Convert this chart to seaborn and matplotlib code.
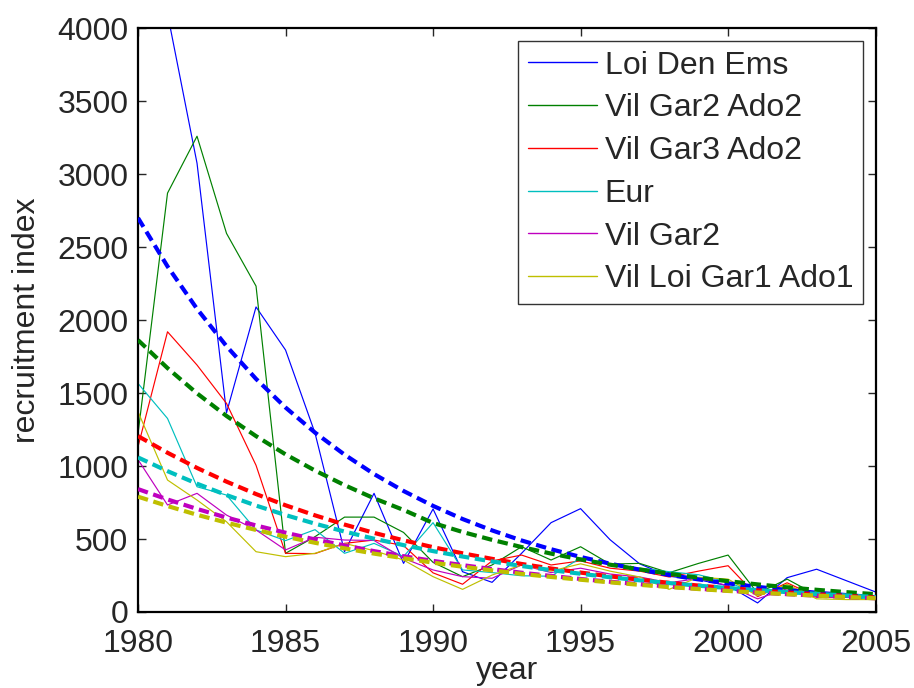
import numpy as np
import pandas as pd
import matplotlib
matplotlib.use("Agg")
import matplotlib.pyplot as plt
import seaborn as sns

years = list(range(1980, 2006))

series_names = ["Loi Den Ems", "Vil Gar2 Ado2", "Vil Gar3 Ado2", "Eur",
                "Vil Gar2", "Vil Loi Gar1 Ado1"]

# observed recruitment indices, one value per year 1980-2005
loi_den_ems = [5200, 4100, 3075, 1365, 2090, 1795, 1225, 413, 813, 333,
               706, 276, 203, 402, 612, 708, 495, 330, 245, 220,
               180, 62, 235, 293, 215, 137]
vil_gar2_ado2 = [1220, 2870, 3260, 2594, 2233, 402, 516, 650, 650, 545,
                 340, 242, 322, 447, 356, 447, 328, 333, 269, 333,
                 390, 128, 225, 116, 105, 100]
vil_gar3_ado2 = [1132, 1920, 1692, 1429, 1005, 402, 400, 470, 493, 455,
                 268, 190, 350, 390, 322, 350, 300, 280, 240, 280,
                 317, 105, 200, 105, 100, 100]
eur = [1566, 1326, 858, 801, 562, 489, 564, 402, 470, 380,
       612, 288, 270, 248, 245, 370, 330, 300, 276, 255,
       205, 120, 175, 110, 100, 90]
vil_gar2 = [1044, 733, 813, 664, 562, 425, 512, 493, 490, 368,
            288, 242, 231, 322, 270, 300, 260, 240, 200, 230,
            180, 90, 160, 100, 100, 100]
vil_loi_gar1_ado1 = [1372, 904, 767, 618, 413, 379, 402, 470, 420, 356,
                     242, 155, 253, 322, 280, 330, 280, 240, 155, 238,
                     225, 110, 190, 90, 85, 85]

# fitted trend for each series
fit_loi_den_ems = [2700, 2368, 2077, 1821, 1597, 1401, 1229, 1078, 945, 829,
                   727, 637, 559, 490, 430, 377, 331, 290, 254, 223,
                   196, 172, 150, 132, 116, 101]
fit_vil_gar2_ado2 = [1863, 1671, 1498, 1343, 1205, 1080, 969, 869, 779, 699,
                     610, 548, 494, 445, 400, 360, 324, 292, 262, 235,
                     211, 189, 169, 152, 136, 122]
fit_vil_gar3_ado2 = [1205, 1091, 987, 893, 808, 731, 662, 599, 542, 491,
                     444, 402, 364, 329, 298, 270, 244, 221, 200, 181,
                     164, 148, 134, 121, 110, 99]
fit_eur = [1059, 965, 879, 801, 729, 664, 605, 551, 502, 458,
           417, 380, 346, 315, 287, 262, 238, 217, 198, 180,
           164, 150, 136, 124, 113, 103]
fit_vil_gar2 = [842, 771, 706, 647, 593, 543, 497, 456, 417, 382,
                350, 321, 294, 269, 247, 226, 207, 190, 174, 159,
                146, 133, 122, 112, 103, 94]
fit_vil_loi_gar1_ado1 = [790, 726, 666, 612, 562, 516, 474, 436, 400, 368,
                         338, 310, 285, 261, 240, 221, 203, 186, 171, 157,
                         144, 133, 122, 112, 103, 94]

x_ticks = [1980, 1985, 1990, 1995, 2000, 2005]
y_ticks = [0, 500, 1000, 1500, 2000, 2500, 3000, 3500, 4000]

observed = [loi_den_ems, vil_gar2_ado2, vil_gar3_ado2, eur, vil_gar2, vil_loi_gar1_ado1]
fitted = [fit_loi_den_ems, fit_vil_gar2_ado2, fit_vil_gar3_ado2, fit_eur,
          fit_vil_gar2, fit_vil_loi_gar1_ado1]

colors = ["#0000ff", "#008000", "#ff0000", "#00bfbf", "#bf00bf", "#bfbf00"]

obs_df = pd.DataFrame({
    "year": np.tile(years, len(series_names)),
    "value": np.concatenate(observed),
    "series": np.repeat(series_names, len(years)),
})
fit_df = pd.DataFrame({
    "year": np.tile(years, len(series_names)),
    "value": np.concatenate(fitted),
    "series": np.repeat(series_names, len(years)),
})

sns.set_style("white")
plt.rcParams["font.family"] = ["Liberation Sans", "DejaVu Sans"]

fig = plt.figure(figsize=(9.14, 6.88), dpi=100)
ax = fig.add_axes([0.151, 0.1105, 0.807, 0.8485])

palette = dict(zip(series_names, colors))
sns.lineplot(data=obs_df, x="year", y="value", hue="series", hue_order=series_names,
             palette=palette, linewidth=0.85, ax=ax, zorder=2)

for name in series_names:
    sub = fit_df[fit_df["series"] == name]
    sns.lineplot(data=sub, x="year", y="value", color=palette[name], linewidth=3.0,
                 linestyle=(0, (2.5, 1.35)), ax=ax, legend=False, zorder=3)

ax.set_xlim(1980, 2005)
ax.set_ylim(0, 4000)
ax.set_xticks(x_ticks)
ax.set_yticks(y_ticks)
ax.tick_params(axis="x", pad=12)
ax.tick_params(axis="y", pad=7)
ax.tick_params(axis="both", direction="in", length=6, width=1, labelsize=23,
               top=True, right=True, bottom=True, left=True)
for sp in ax.spines.values():
    sp.set_visible(True)
    sp.set_color("black")
    sp.set_linewidth(1.6)

ax.set_xlabel("year", fontsize=23, labelpad=-2)
ax.set_ylabel("recruitment index", fontsize=23, labelpad=11)

leg = ax.legend(loc="upper right", fontsize=23, frameon=True, fancybox=False,
                edgecolor="black", handlelength=2.15, handletextpad=0.25,
                labelspacing=0.4, borderpad=0.3, borderaxespad=0.4)
leg.get_frame().set_linewidth(1.0)
for line in leg.get_lines():
    line.set_linewidth(1.0)

fig.savefig("out.png", dpi=100, facecolor="white")
